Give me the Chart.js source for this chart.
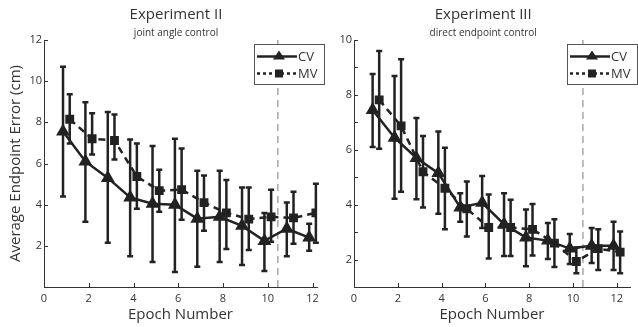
<!DOCTYPE html>
<html>
<head>
<meta charset="utf-8">
<script src="https://cdn.jsdelivr.net/npm/chart.js@4/dist/chart.umd.min.js"></script>
<style>
  body { margin: 0; background: #fff; width: 638px; height: 327px; position: relative; overflow: hidden; }
  .panel { position: absolute; top: 0; }
</style>
</head>
<body>
<div class="panel" style="left:0;width:330px;height:327px"><canvas id="left"></canvas></div>
<div class="panel" style="left:320px;width:318px;height:327px"><canvas id="right"></canvas></div>
<script>
// data
const epochs = [1, 2, 3, 4, 5, 6, 7, 8, 9, 10, 11, 12]
const xTicks = [0, 2, 4, 6, 8, 10, 12]
const switchEpoch = 10.45

// Experiment II - joint angle control
const exp2CV   = [7.55, 6.1, 5.3, 4.35, 4.05, 4.0, 3.32, 3.41, 2.97, 2.24, 2.83, 2.4]
const exp2CVLo = [4.4, 3.17, 2.15, 1.5, 1.22, 0.73, 0.98, 1.22, 1.07, 0.78, 1.5, 1.76]
const exp2CVHi = [10.7, 8.98, 8.5, 7.17, 6.85, 7.2, 5.65, 5.65, 4.83, 3.6, 4.1, 3.07]
const exp2MV   = [8.15, 7.2, 7.12, 5.37, 4.68, 4.73, 4.1, 3.6, 3.3, 3.41, 3.36, 3.6]
const exp2MVLo = [6.97, 6.44, 6.2, 3.8, 3.65, 3.27, 2.73, 1.85, 1.8, 2.2, 2.1, 2.15]
const exp2MVHi = [9.37, 8.44, 8.38, 6.97, 5.7, 6.73, 5.42, 5.2, 4.83, 4.73, 4.63, 5.02]

// Experiment III - direct endpoint control
const exp3CV   = [7.45, 6.44, 5.7, 5.15, 3.9, 4.07, 3.29, 2.8, 2.69, 2.4, 2.5, 2.5]
const exp3CVLo = [6.1, 4.22, 4.2, 3.67, 3.38, 3.15, 2.13, 1.76, 2.02, 1.84, 1.87, 1.62]
const exp3CVHi = [8.76, 8.69, 7.16, 6.67, 4.42, 5.04, 4.42, 3.82, 3.33, 2.93, 3.15, 3.38]
const exp3MV   = [7.82, 6.87, 5.2, 4.6, 3.85, 3.17, 3.17, 3.1, 2.6, 1.93, 2.4, 2.27]
const exp3MVLo = [6.04, 4.47, 3.9, 3.1, 2.84, 2.04, 2.13, 2.15, 1.73, 1.5, 1.62, 1.5]
const exp3MVHi = [9.6, 9.3, 6.5, 6.07, 4.84, 4.37, 4.18, 4.02, 3.47, 2.44, 3.1, 3.02]

const FONT = "'Open Sans', 'Noto Sans', sans-serif"
const INK = '#222'
const TEXT = '#333'
const SHIFT = 0.15  // CV drawn slightly left of the epoch, MV slightly right

// error bars with caps
const errorBars = {
  id: 'errorBars',
  afterDatasetsDraw(chart) {
    const ctx = chart.ctx
    const xs = chart.scales.x, ys = chart.scales.y
    chart.data.datasets.forEach(ds => {
      if (!ds.errLo) return
      ctx.save()
      ctx.strokeStyle = INK
      ctx.lineWidth = 2.5
      ctx.setLineDash([])
      ds.data.forEach((p, i) => {
        let x = xs.getPixelForValue(p.x)
        let y1 = ys.getPixelForValue(ds.errLo[i])
        let y2 = ys.getPixelForValue(ds.errHi[i])
        ctx.beginPath()
        ctx.moveTo(x, y1); ctx.lineTo(x, y2)
        ctx.moveTo(x - 3, y1); ctx.lineTo(x + 3, y1)
        ctx.moveTo(x - 3, y2); ctx.lineTo(x + 3, y2)
        ctx.stroke()
      })
      ctx.restore()
    })
  }
}

// matlab style inward ticks
const innerTicks = {
  id: 'innerTicks',
  afterDraw(chart) {
    const ctx = chart.ctx
    const {x, y} = chart.scales
    const area = chart.chartArea
    ctx.save()
    ctx.strokeStyle = TEXT
    ctx.lineWidth = 1
    x.ticks.forEach(t => {
      let px = Math.round(x.getPixelForValue(t.value)) + 0.5
      ctx.beginPath(); ctx.moveTo(px, area.bottom); ctx.lineTo(px, area.bottom - 4); ctx.stroke()
    })
    y.ticks.forEach(t => {
      let py = Math.round(y.getPixelForValue(t.value)) + 0.5
      ctx.beginPath(); ctx.moveTo(area.left, py); ctx.lineTo(area.left + 4, py); ctx.stroke()
    })
    ctx.restore()
  }
}

// title + subtitle, and the boxed legend
const panelText = {
  id: 'panelText',
  afterDraw(chart, args, opts) {
    const ctx = chart.ctx
    const cx = chart.scales.x.getPixelForValue(opts.center)
    ctx.save()
    ctx.fillStyle = TEXT
    ctx.textAlign = 'center'
    ctx.textBaseline = 'middle'
    ctx.font = '15px ' + FONT
    ctx.fillText(opts.title, cx, 15)
    ctx.font = '10px ' + FONT
    ctx.fillText(opts.subtitle, cx, 33)

    // legend
    const bw = 70, bh = 40
    const bx = opts.legendRight - bw, by = 44.5
    ctx.fillStyle = '#fff'
    ctx.fillRect(bx, by, bw, bh)
    ctx.strokeStyle = '#555'
    ctx.lineWidth = 1
    ctx.strokeRect(Math.round(bx) + 0.5, by, bw, bh)
    const rows = [
      {label: 'CV', dash: [], marker: 'tri', y: by + 12},
      {label: 'MV', dash: [3, 3], marker: 'sq', y: by + 29}
    ]
    rows.forEach(r => {
      ctx.strokeStyle = INK
      ctx.lineWidth = 2.5
      ctx.setLineDash(r.dash)
      ctx.beginPath(); ctx.moveTo(bx + 3, r.y); ctx.lineTo(bx + 43, r.y); ctx.stroke()
      ctx.setLineDash([])
      ctx.fillStyle = INK
      let mx = bx + 25
      ctx.beginPath()
      if (r.marker === 'tri') {
        ctx.moveTo(mx, r.y - 6); ctx.lineTo(mx + 6, r.y + 3); ctx.lineTo(mx - 6, r.y + 3)
      } else {
        ctx.rect(mx - 4, r.y - 4, 8, 8)
      }
      ctx.closePath(); ctx.fill()
      ctx.fillStyle = TEXT
      ctx.textAlign = 'left'
      ctx.font = '13px ' + FONT
      ctx.fillText(r.label, bx + 44, r.y + 1)
    })
    ctx.restore()
  }
}

function points(vals, shift) {
  return vals.map((v, i) => ({x: epochs[i] + shift, y: v}))
}

function makePanel(id, cfg) {
  return new Chart(document.getElementById(id), {
    type: 'line',
    data: {
      datasets: [
        {
          label: 'CV',
          data: points(cfg.cv, -SHIFT),
          errLo: cfg.cvLo, errHi: cfg.cvHi,
          borderColor: INK, backgroundColor: INK,
          borderWidth: 2.5,
          pointStyle: 'triangle', pointRadius: 5.5,
        },
        {
          label: 'MV',
          data: points(cfg.mv, SHIFT),
          errLo: cfg.mvLo, errHi: cfg.mvHi,
          borderColor: INK, backgroundColor: INK,
          borderWidth: 2.5, borderDash: [7, 5],
          pointStyle: 'rect', pointRadius: 4.5,
        },
        {
          label: 'switch',
          data: [{x: switchEpoch, y: cfg.yMin}, {x: switchEpoch, y: cfg.yMax}],
          borderColor: '#9a9a9a', borderWidth: 1.3, borderDash: [7, 5],
          pointRadius: 0,
        }
      ]
    },
    options: {
      responsive: true,
      maintainAspectRatio: false,
      animation: false,
      layout: {padding: {left: 0, right: cfg.padRight, top: 40, bottom: 0}},
      plugins: {
        legend: {display: false},
        tooltip: {enabled: false},
        panelText: {title: cfg.title, subtitle: cfg.subtitle, center: 5.9, legendRight: cfg.legendRight}
      },
      scales: {
        x: {
          type: 'linear', min: 0, max: cfg.xMax,
          afterBuildTicks: s => { s.ticks = xTicks.map(v => ({value: v})) },
          afterFit: s => { s.height = 40 },
          grid: {display: false, drawTicks: false},
          border: {display: true, color: TEXT, width: 1},
          ticks: {color: TEXT, font: {family: FONT, size: 11}, padding: 5, maxRotation: 0},
          title: {display: true, text: 'Epoch Number', color: TEXT, font: {family: FONT, size: 15}, padding: {top: 0, bottom: 3}}
        },
        y: {
          min: cfg.yMin, max: cfg.yMax,
          afterBuildTicks: s => { s.ticks = cfg.yTicks.map(v => ({value: v})) },
          afterFit: s => { s.width = cfg.yWidth },
          grid: {display: false, drawTicks: false},
          border: {display: true, color: TEXT, width: 1},
          ticks: {
            color: TEXT, font: {family: FONT, size: 11}, padding: 2,
            callback: v => cfg.yLabels.includes(v) ? String(v) : ''
          },
          title: {display: cfg.yTitle, text: 'Average Endpoint Error (cm)', color: TEXT, font: {family: FONT, size: 15}, padding: {top: 7, bottom: 0}}
        }
      }
    },
    plugins: [errorBars, innerTicks, panelText]
  })
}

makePanel('left', {
  title: 'Experiment II', subtitle: 'joint angle control',
  cv: exp2CV, cvLo: exp2CVLo, cvHi: exp2CVHi,
  mv: exp2MV, mvLo: exp2MVLo, mvHi: exp2MVHi,
  yMin: 0, yMax: 12, yTicks: [0, 2, 4, 6, 8, 10, 12], yLabels: [2, 4, 6, 8, 10, 12],
  xMax: 12.2, yWidth: 44, padRight: 13, legendRight: 324, yTitle: true
})

makePanel('right', {
  title: 'Experiment III', subtitle: 'direct endpoint control',
  cv: exp3CV, cvLo: exp3CVLo, cvHi: exp3CVHi,
  mv: exp3MV, mvLo: exp3MVLo, mvHi: exp3MVHi,
  yMin: 1, yMax: 10, yTicks: [1, 2, 3, 4, 5, 6, 7, 8, 9, 10], yLabels: [2, 4, 6, 8, 10],
  xMax: 12.6, yWidth: 34, padRight: 1, legendRight: 317, yTitle: false
})
</script>
</body>
</html>
